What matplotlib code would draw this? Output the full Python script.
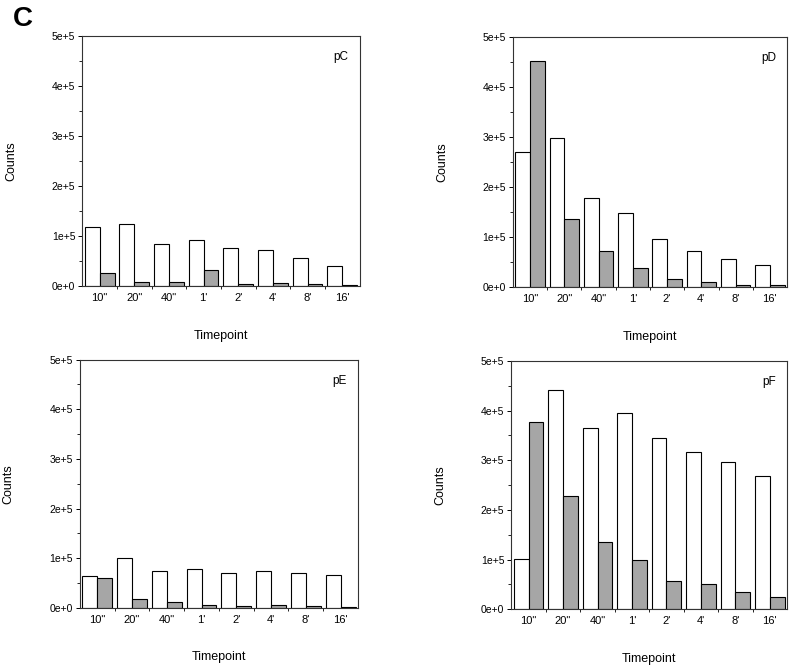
import numpy as np
import matplotlib.pyplot as plt

plt.rcParams['font.family'] = ['Liberation Sans', 'DejaVu Sans']

timepoints = ['10"', '20"', '40"', "1'", "2'", "4'", "8'", "16'"]

pC_white = [117000, 122700, 82700, 91300, 75300, 72000, 56000, 38700]
pC_gray = [24700, 6700, 7300, 31300, 3300, 5300, 4000, 700]

pD_white = [271000, 299000, 178000, 148700, 95300, 72700, 56000, 44700]
pD_gray = [452000, 136000, 72700, 38700, 16700, 10000, 4000, 4000]

pE_white = [64200, 100700, 74300, 78400, 70900, 74300, 69600, 66200]
pE_gray = [59500, 17600, 11500, 5400, 3400, 5400, 3400, 1400]

pF_white = [100700, 441000, 365800, 394600, 344300, 316800, 296600, 267800]
pF_gray = [377200, 227500, 134900, 98700, 56400, 50300, 35600, 24200]

panels = [
    ("pC", pC_white, pC_gray, [0.103, 0.574, 0.347, 0.373]),
    ("pD", pD_white, pD_gray, [0.642, 0.572, 0.343, 0.373]),
    ("pE", pE_white, pE_gray, [0.100, 0.094, 0.348, 0.370]),
    ("pF", pF_white, pF_gray, [0.640, 0.092, 0.345, 0.370]),
]

fig = plt.figure(figsize=(7.99, 6.71), dpi=100)
fig.text(0.016, 0.953, "C", fontsize=20, fontweight='bold', va='bottom')

x = np.arange(len(timepoints))
w = 0.43
for name, white, gray, rect in panels:
    ax = fig.add_axes(rect)
    ax.bar(x - w / 2, white, w, color='white', edgecolor='black', linewidth=0.8)
    ax.bar(x + w / 2, gray, w, color='#a6a6a6', edgecolor='black', linewidth=0.8)
    ax.set_xlim(-0.5, 7.5)
    ax.set_ylim(0, 5e5)
    ax.set_yticks([0, 1e5, 2e5, 3e5, 4e5, 5e5])
    ax.set_yticklabels(['0e+0', '1e+5', '2e+5', '3e+5', '4e+5', '5e+5'], fontsize=7.5)
    ax.set_yticks(np.arange(0.5e5, 5e5, 1e5), minor=True)
    ax.set_xticks(x)
    ax.set_xticklabels(timepoints, fontsize=8)
    ax.set_xticks(np.arange(0.5, 7.5, 1), minor=True)
    ax.tick_params(axis='x', which='major', length=0, pad=5)
    ax.tick_params(axis='x', which='minor', length=2, width=0.6)
    ax.tick_params(axis='y', which='major', length=3, width=0.7, pad=2)
    ax.tick_params(axis='y', which='minor', length=2, width=0.6)
    for s in ax.spines.values():
        s.set_linewidth(0.8)
        s.set_color('#333333')
    ax.text(0.96, 0.94, name, transform=ax.transAxes, ha='right', va='top', fontsize=8.5)
    ax.set_ylabel("Counts", fontsize=9)
    ax.yaxis.set_label_coords(-0.235, 0.5)
    ax.set_xlabel("Timepoint", fontsize=9)
    ax.xaxis.set_label_coords(0.5, -0.175)

fig.savefig("out.png", dpi=100)
